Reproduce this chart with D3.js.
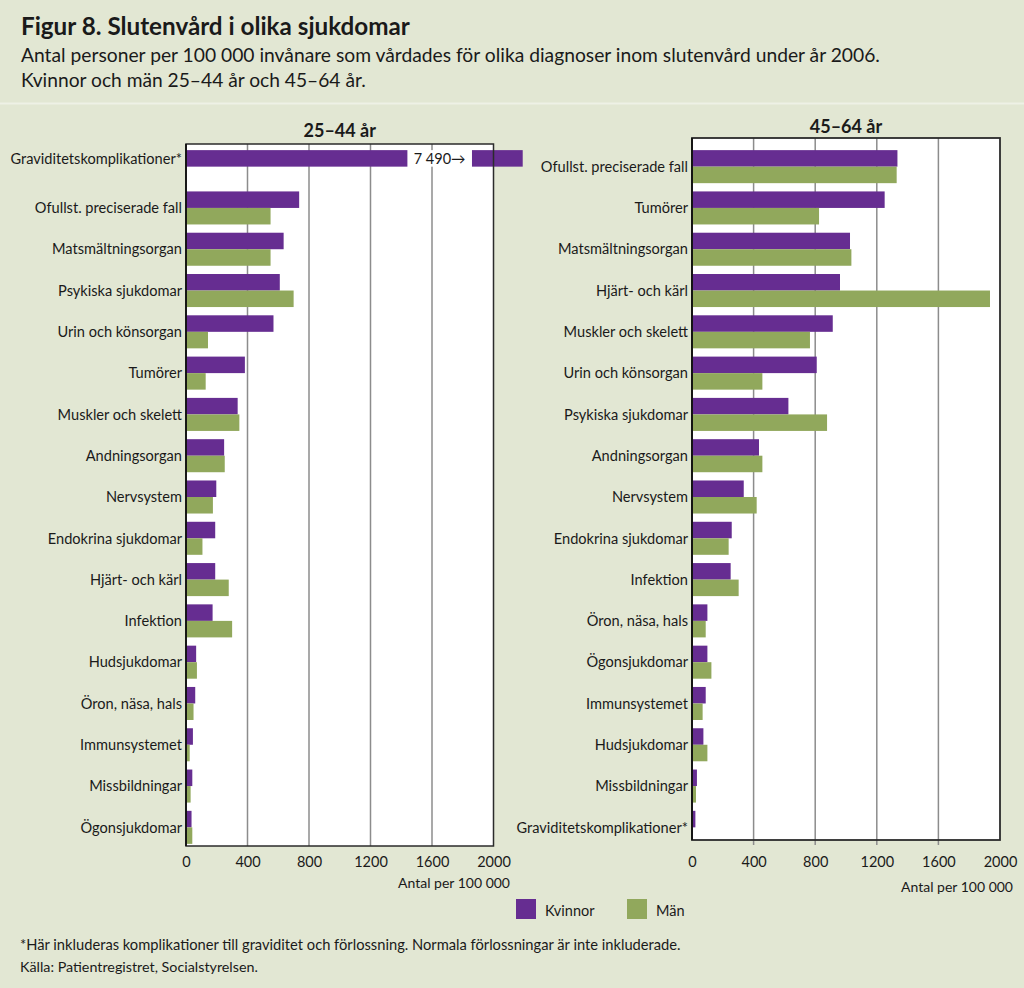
<!DOCTYPE html>
<html>
<head>
<meta charset="utf-8">
<script src="https://cdn.jsdelivr.net/npm/d3@7"></script>
<style>
  html, body { margin: 0; padding: 0; background: #e2e7d3; }
  svg { display: block; font-family: Lato, "Open Sans", sans-serif; }
</style>
</head>
<body>
<svg id="chart" width="1024" height="988"></svg>
<script>
// ---------- data ----------
const categories2544 = ["Graviditetskomplikationer*", "Ofullst. preciserade fall", "Matsmältningsorgan",
  "Psykiska sjukdomar", "Urin och könsorgan", "Tumörer", "Muskler och skelett", "Andningsorgan",
  "Nervsystem", "Endokrina sjukdomar", "Hjärt- och kärl", "Infektion", "Hudsjukdomar",
  "Öron, näsa, hals", "Immunsystemet", "Missbildningar", "Ögonsjukdomar"];
const kvinnor2544 = [7490, 736, 635, 610, 569, 383, 336, 248, 197, 190, 190, 173, 66, 60, 45, 41, 36];
const man2544     = [null, 550, 550, 700, 143, 128, 347, 252, 175, 107, 278, 300, 71, 49, 24, 30, 41];

const categories4564 = ["Ofullst. preciserade fall", "Tumörer", "Matsmältningsorgan", "Hjärt- och kärl",
  "Muskler och skelett", "Urin och könsorgan", "Psykiska sjukdomar", "Andningsorgan", "Nervsystem",
  "Endokrina sjukdomar", "Infektion", "Öron, näsa, hals", "Ögonsjukdomar", "Immunsystemet",
  "Hudsjukdomar", "Missbildningar", "Graviditetskomplikationer*"];
const kvinnor4564 = [1334, 1251, 1026, 961, 914, 810, 626, 435, 336, 258, 251, 100, 100, 89, 74, 32, 22];
const man4564     = [1329, 825, 1035, 1935, 766, 457, 877, 457, 420, 238, 303, 89, 126, 69, 100, 26, null];

const xTicks = [0, 400, 800, 1200, 1600, 2000];
const seriesNames = ["Kvinnor", "Män"];
const breakLabel = "7 490→";

// ---------- style ----------
const colors = { Kvinnor: "#662d91", "Män": "#91a85c" };
const svg = d3.select("#chart");
const W = 1024, H = 988;

svg.append("rect").attr("width", W).attr("height", H).attr("fill", "#e2e7d3");
svg.append("line").attr("x1", 0).attr("x2", W).attr("y1", 103.5).attr("y2", 103.5)
  .attr("stroke", "#eef1e6").attr("stroke-width", 2);

function fitText(sel, target) {
  const n = sel.node();
  const w = n.getComputedTextLength();
  const fs = parseFloat(sel.attr("font-size"));
  sel.attr("font-size", (fs * target / w).toFixed(2));
}

// header
fitText(svg.append("text").attr("x", 21).attr("y", 35).attr("font-size", 20).attr("font-weight", 700)
  .attr("fill", "#1a1a1a").text("Figur 8. Slutenvård i olika sjukdomar"), 389);
fitText(svg.append("text").attr("x", 21).attr("y", 61.5).attr("font-size", 18).attr("fill", "#1a1a1a")
  .text("Antal personer per 100 000 invånare som vårdades för olika diagnoser inom slutenvård under år 2006."), 859);
fitText(svg.append("text").attr("x", 21).attr("y", 87.3).attr("font-size", 18).attr("fill", "#1a1a1a")
  .text("Kvinnor och män 25–44 år och 45–64 år."), 345);

// shared row scale
const yBand = (cats) => d3.scaleBand().domain(cats).range([146, 848]).paddingInner(0.2).paddingOuter(0.1);

function panel(opts) {
  const { cats, kv, man, x0, x1, top, bottom, title, titleY, labelX, unitY, unitX, broken, tickBelow, frameW } = opts;
  const x = d3.scaleLinear().domain([0, 2000]).range([x0, x1]);
  const y = yBand(cats);
  const sub = d3.scaleBand().domain(seriesNames).range([0, y.bandwidth()]);
  const g = svg.append("g");

  g.append("rect").attr("x", x0).attr("y", top).attr("width", x1 - x0).attr("height", bottom - top)
    .attr("fill", "#ffffff");

  // gridlines
  g.selectAll(".grid").data(xTicks.slice(1, -1)).join("line")
    .attr("x1", d => x(d)).attr("x2", d => x(d))
    .attr("y1", top).attr("y2", bottom + (tickBelow ? 5 : 0))
    .attr("stroke", "#8c8c8c").attr("stroke-width", 1.5);

  const rows = cats.map((c, i) => ({ c, kv: kv[i], man: man[i] }));

  // bars
  rows.forEach(r => {
    [["Kvinnor", r.kv], ["Män", r.man]].forEach(([s, v]) => {
      if (v == null) return;
      const yy = y(r.c) + sub(s);
      if (broken && v > 2000) {
        g.append("rect").attr("x", x(0)).attr("y", yy).attr("width", x(broken.cut) - x(0))
          .attr("height", sub.bandwidth()).attr("fill", colors[s]);
        g.append("rect").attr("x", x(broken.resume)).attr("y", yy)
          .attr("width", x(broken.end) - x(broken.resume))
          .attr("height", sub.bandwidth()).attr("fill", colors[s]);
        g.append("rect").attr("x", x(broken.cut) + 1).attr("y", yy)
          .attr("width", x(broken.resume) - x(broken.cut) - 2).attr("height", sub.bandwidth())
          .attr("fill", "#ffffff");
        g.append("text").attr("x", (x(broken.cut) + x(broken.resume)) / 2).attr("y", yy + sub.bandwidth() / 2)
          .attr("dy", "0.36em").attr("text-anchor", "middle").attr("font-size", 14.5)
          .attr("fill", "#1a1a1a").text(breakLabel);
      } else {
        g.append("rect").attr("x", x(0)).attr("y", yy).attr("width", x(v) - x(0))
          .attr("height", sub.bandwidth()).attr("fill", colors[s]);
      }
    });
  });

  // frame
  g.append("rect").attr("x", x0).attr("y", top).attr("width", x1 - x0).attr("height", bottom - top)
    .attr("fill", "none").attr("stroke", "#2b2b2b").attr("stroke-width", frameW);
  g.append("line").attr("x1", x0).attr("x2", x0).attr("y1", top).attr("y2", bottom)
    .attr("stroke", "#111").attr("stroke-width", 1.8);

  // category labels
  g.selectAll(".lab").data(rows).join("text")
    .attr("x", labelX)
    .attr("y", r => (r.man == null && broken) ? y(r.c) + sub("Kvinnor") + sub.bandwidth() / 2 : y(r.c) + y.bandwidth() / 2)
    .attr("dy", "0.36em").attr("text-anchor", "end").attr("font-size", 14.6)
    .attr("fill", "#1a1a1a").text(r => r.c);

  // x axis
  const axis = d3.axisBottom(x).tickValues(xTicks).tickSize(0).tickPadding(0).tickFormat(d3.format("d"));
  const ax = g.append("g").attr("transform", `translate(0, 867)`).call(axis);
  ax.select(".domain").remove();
  ax.selectAll("text").attr("font-size", 14.5).attr("fill", "#1a1a1a").attr("dy", 0)
    .attr("font-family", "Lato, 'Open Sans', sans-serif");

  g.append("text").attr("x", unitX).attr("y", unitY).attr("text-anchor", "end").attr("font-size", 14)
    .attr("fill", "#1a1a1a").text("Antal per 100 000");

  g.append("text").attr("x", (x0 + x1) / 2).attr("y", titleY).attr("text-anchor", "middle")
    .attr("font-size", 18).attr("font-weight", 700).attr("fill", "#1a1a1a").text(title);
}

panel({ cats: categories2544, kv: kvinnor2544, man: man2544, x0: 186, x1: 493.5, top: 144, bottom: 846,
  title: "25–44 år", titleY: 137, labelX: 182, unitY: 888, unitX: 510,
  broken: { cut: 1440, resume: 1860, end: 2190 }, tickBelow: false, frameW: 1.5 });
panel({ cats: categories4564, kv: kvinnor4564, man: man4564, x0: 692, x1: 1000, top: 138, bottom: 840,
  title: "45–64 år", titleY: 132.5, labelX: 688, unitY: 891.5, unitX: 1013,
  broken: null, tickBelow: true, frameW: 1.8 });

// legend
const leg = svg.append("g");
[["Kvinnor", 516, 545], ["Män", 627, 656]].forEach(([s, sx, tx]) => {
  leg.append("rect").attr("x", sx).attr("y", 899).attr("width", 20).attr("height", 20).attr("fill", colors[s]);
  leg.append("text").attr("x", tx).attr("y", 916).attr("font-size", 14.5).attr("fill", "#1a1a1a").text(s);
});

// footnotes
fitText(svg.append("text").attr("x", 20).attr("y", 950).attr("font-size", 13).attr("fill", "#1a1a1a")
  .text("*Här inkluderas komplikationer till graviditet och förlossning. Normala förlossningar är inte inkluderade."), 661);
fitText(svg.append("text").attr("x", 20).attr("y", 971.5).attr("font-size", 13).attr("fill", "#1a1a1a")
  .text("Källa: Patientregistret, Socialstyrelsen."), 238);
</script>
</body>
</html>
